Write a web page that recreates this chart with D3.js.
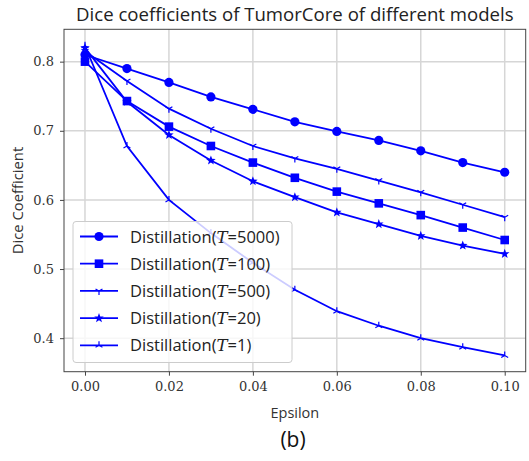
<!DOCTYPE html>
<html>
<head>
<meta charset="utf-8">
<script src="https://cdn.jsdelivr.net/npm/d3@7"></script>
<style>
  body { margin: 0; background: #fff; }
  svg { display: block; }
</style>
</head>
<body>
<div id="chart"></div>
<script>
// Values
const epsilon = [0, 0.01, 0.02, 0.03, 0.04, 0.05, 0.06, 0.07, 0.08, 0.09, 0.10];
const t5000 = [0.810, 0.790, 0.770, 0.749, 0.731, 0.713, 0.699, 0.686, 0.671, 0.654, 0.640];
const t100  = [0.800, 0.743, 0.706, 0.678, 0.654, 0.632, 0.612, 0.595, 0.578, 0.560, 0.542];
const t500  = [0.815, 0.772, 0.732, 0.703, 0.678, 0.660, 0.645, 0.628, 0.611, 0.593, 0.575];
const t20   = [0.820, 0.742, 0.694, 0.657, 0.627, 0.604, 0.582, 0.565, 0.548, 0.534, 0.522];
const t1    = [0.823, 0.678, 0.600, 0.552, 0.509, 0.470, 0.439, 0.418, 0.400, 0.387, 0.375];
const seriesNames = ["5000", "100", "500", "20", "1"];
const seriesMarkers = ["circle", "square", "tri_down", "star", "tri_up"];
const xTicks = [0, 0.02, 0.04, 0.06, 0.08, 0.10];
const yTicks = [0.4, 0.5, 0.6, 0.7, 0.8];

const series = [t5000, t100, t500, t20, t1].map((vals, i) => ({
    name: seriesNames[i],
    marker: seriesMarkers[i],
    values: vals.map((v, j) => ({ x: epsilon[j], y: v }))
}));

const width = 529, height = 461;
const plotLeft = 64, plotRight = 525.7, plotTop = 29.3, plotBottom = 371.7;
const blue = "#0000ff";

const svg = d3.select("#chart").append("svg")
    .attr("width", width)
    .attr("height", height);

const x = d3.scaleLinear().domain([-0.005, 0.105]).range([plotLeft, plotRight]);
const y = d3.scaleLinear().domain([0.3515, 0.8468]).range([plotBottom, plotTop]);

// grid
svg.append("g").selectAll("line").data(xTicks).enter().append("line")
    .attr("x1", d => x(d)).attr("x2", d => x(d))
    .attr("y1", plotTop).attr("y2", plotBottom)
    .attr("stroke", "#d6d6d6").attr("stroke-width", 1.5);
svg.append("g").selectAll("line").data(yTicks).enter().append("line")
    .attr("y1", d => y(d)).attr("y2", d => y(d))
    .attr("x1", plotLeft).attr("x2", plotRight)
    .attr("stroke", "#d6d6d6").attr("stroke-width", 1.5);

// axes
const xAxis = d3.axisBottom(x).tickValues(xTicks).tickSize(4).tickPadding(6)
    .tickFormat(d3.format(".2f"));
const yAxis = d3.axisLeft(y).tickValues(yTicks).tickSize(4).tickPadding(6)
    .tickFormat(d3.format(".1f"));

const gx = svg.append("g").attr("transform", `translate(0,${plotBottom})`).call(xAxis);
const gy = svg.append("g").attr("transform", `translate(${plotLeft},0)`).call(yAxis);
[gx, gy].forEach(g => {
    g.select(".domain").remove();
    g.selectAll(".tick line").attr("stroke", "#444").attr("stroke-width", 1);
    g.selectAll(".tick text")
        .attr("fill", "#333")
        .style("font-family", "'DejaVu Serif', serif")
        .style("font-size", "13px");
});

// frame
svg.append("rect")
    .attr("x", plotLeft).attr("y", plotTop)
    .attr("width", plotRight - plotLeft).attr("height", plotBottom - plotTop)
    .attr("fill", "none").attr("stroke", "#444").attr("stroke-width", 1);

function drawMarker(g, type, cx, cy) {
    if (type === "circle") {
        g.append("circle").attr("cx", cx).attr("cy", cy).attr("r", 4.6).attr("fill", blue);
    } else if (type === "square") {
        g.append("rect").attr("x", cx - 4.3).attr("y", cy - 4.3)
            .attr("width", 8.6).attr("height", 8.6).attr("fill", blue);
    } else if (type === "star") {
        const pts = d3.range(10).map(k => {
            const r = k % 2 === 0 ? 5 : 2.1;
            const a = -Math.PI / 2 + k * Math.PI / 5;
            return [cx + r * Math.cos(a), cy + r * Math.sin(a)];
        });
        g.append("polygon").attr("points", pts.map(p => p.join(",")).join(" ")).attr("fill", blue);
    } else {
        const s = type === "tri_down" ? 1 : -1;
        const r = 4;
        const path = d3.path();
        path.moveTo(cx, cy); path.lineTo(cx, cy + s * r);
        path.moveTo(cx, cy); path.lineTo(cx - r * 0.866, cy - s * r * 0.5);
        path.moveTo(cx, cy); path.lineTo(cx + r * 0.866, cy - s * r * 0.5);
        g.append("path").attr("d", path.toString())
            .attr("stroke", blue).attr("stroke-width", 1.2).attr("fill", "none");
    }
}

const line = d3.line().x(d => x(d.x)).y(d => y(d.y));
const plot = svg.append("g");

series.forEach(s => {
    plot.append("path")
        .datum(s.values)
        .attr("d", line)
        .attr("fill", "none")
        .attr("stroke", blue)
        .attr("stroke-width", 1.8);
    const mg = plot.append("g");
    s.values.forEach(p => drawMarker(mg, s.marker, x(p.x), y(p.y)));
});

// legend
const legend = svg.append("g");
legend.append("rect")
    .attr("x", 73).attr("y", 221.5)
    .attr("width", 219).attr("height", 141)
    .attr("rx", 3)
    .attr("fill", "#fff").attr("fill-opacity", 0.8)
    .attr("stroke", "#cccccc").attr("stroke-width", 1);

series.forEach((s, i) => {
    const ly = 236.5 + i * 27.2;
    legend.append("line")
        .attr("x1", 80).attr("x2", 118).attr("y1", ly).attr("y2", ly)
        .attr("stroke", blue).attr("stroke-width", 1.8);
    drawMarker(legend, s.marker, 99, ly);
    const t = legend.append("text")
        .attr("x", 130).attr("y", ly + 6)
        .attr("fill", "#222")
        .style("font-family", "'Open Sans', sans-serif")
        .style("font-size", "16.5px");
    t.append("tspan").text("Distillation(");
    t.append("tspan").text("T")
        .style("font-family", "'DejaVu Serif', serif")
        .style("font-style", "italic");
    t.append("tspan").text("=" + s.name + ")");
});

// title and labels
svg.append("text")
    .attr("x", (plotLeft + plotRight) / 2).attr("y", 21)
    .attr("text-anchor", "middle")
    .attr("fill", "#222")
    .style("font-family", "'Open Sans', sans-serif")
    .style("font-size", "18.6px")
    .text("Dice coefficients of TumorCore of different models");

svg.append("text")
    .attr("x", (plotLeft + plotRight) / 2).attr("y", 418)
    .attr("text-anchor", "middle")
    .attr("fill", "#333")
    .style("font-family", "'Open Sans', sans-serif")
    .style("font-size", "14.5px")
    .text("Epsilon");

svg.append("text")
    .attr("transform", `translate(23,${(plotTop + plotBottom) / 2}) rotate(-90)`)
    .attr("text-anchor", "middle")
    .attr("fill", "#333")
    .style("font-family", "'Open Sans', sans-serif")
    .style("font-size", "14.8px")
    .text("Dice Coefficient");

svg.append("text")
    .attr("x", 293).attr("y", 447)
    .attr("text-anchor", "middle")
    .attr("fill", "#111")
    .style("font-family", "'Open Sans', sans-serif")
    .style("font-size", "21px")
    .text("(b)");
</script>
</body>
</html>
